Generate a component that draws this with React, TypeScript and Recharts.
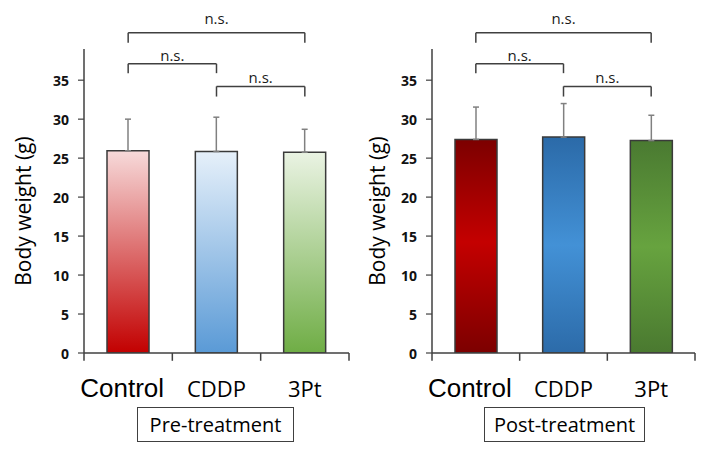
import React from 'react'
import { BarChart, Bar, Cell, XAxis, YAxis, ErrorBar, ReferenceLine } from 'recharts'

const categories = ['Control', 'CDDP', '3Pt']
const preMean = [25.95, 25.85, 25.75]
const preSD = [4.05, 4.4, 2.95]
const postMean = [27.4, 27.7, 27.25]
const postSD = [4.15, 4.3, 3.25]
const yTicks = [0, 5, 10, 15, 20, 25, 30, 35]

// significance brackets (in y units)
const brackets = [
  { from: 'Control', to: '3Pt', top: 41.1, foot: 39.8, label: 'n.s.' },
  { from: 'Control', to: 'CDDP', top: 37.1, foot: 35.9, label: 'n.s.' },
  { from: 'CDDP', to: '3Pt', top: 34.2, foot: 32.9, label: 'n.s.' }
]

const FONT = '"Open Sans", "DejaVu Sans", sans-serif'
const LINE = '#404040'

const preStops = [
  [['0', '#f7dada'], ['1', '#c20000']],
  [['0', '#e6f0fa'], ['1', '#5a9ad6']],
  [['0', '#eaf3e3'], ['1', '#6fad45']]
]
const postStops = [
  [['0', '#7c0000'], ['0.48', '#c40000'], ['1', '#7c0000']],
  [['0', '#2b6aa8'], ['0.5', '#4391d6'], ['1', '#2c6ba9']],
  [['0', '#4a7a31'], ['0.5', '#67a33f'], ['1', '#4a7930']]
]

const CatTick = (props: any) => {
  const { x, y, payload } = props
  const isControl = payload.value === 'Control'
  return (
    <text
      x={x + (isControl ? -6 : 0)}
      y={y + 36}
      textAnchor="middle"
      fontFamily={isControl ? '"Liberation Sans", Arial, sans-serif' : FONT}
      fontSize={isControl ? 26 : 22}
      fill="#000"
    >
      {payload.value}
    </text>
  )
}

const NumTick = (props: any) => {
  const { x, y, payload } = props
  return (
    <text
      x={x}
      y={y}
      textAnchor="end"
      dominantBaseline="central"
      fontFamily={FONT}
      fontWeight={700}
      fontSize={14}
      fill="#111"
    >
      {payload.value}
    </text>
  )
}

const YLabel = (props: any) => {
  const vb = props.viewBox || { x: 0, y: 49, width: 84, height: 304 }
  const cx = 23
  const cy = vb.y + vb.height / 2 + 10
  return (
    <text
      x={cx}
      y={cy}
      transform={`rotate(-90, ${cx}, ${cy})`}
      textAnchor="middle"
      dominantBaseline="central"
      fontFamily={FONT}
      fontSize={21}
      fill="#000"
    >
      Body weight (g)
    </text>
  )
}

interface PanelProps {
  id: string
  means: number[]
  sds: number[]
  stops: string[][][]
  axisWidth: number
  marginRight: number
}

function Panel({ id, means, sds, stops, axisWidth, marginRight }: PanelProps) {
  const data = categories.map((name, i) => ({ name, mean: means[i], err: [0, sds[i]] }))
  const labelOffsets = [9, 3, 3]

  return (
    <BarChart
      width={354}
      height={453}
      data={data}
      margin={{ top: 49, right: marginRight, bottom: 55, left: 0 }}
      barCategoryGap={0}
    >
      <defs>
        {stops.map((s, i) => (
          <linearGradient key={i} id={`${id}-g${i}`} x1="0" y1="0" x2="0" y2="1">
            {s.map(([off, col]) => (
              <stop key={off} offset={off} stopColor={col} />
            ))}
          </linearGradient>
        ))}
      </defs>
      <XAxis
        dataKey="name"
        height={45}
        axisLine={{ stroke: LINE, strokeWidth: 1.5 }}
        tickLine={false}
        tick={<CatTick />}
        interval={0}
      />
      <YAxis
        type="number"
        domain={[0, 39]}
        ticks={yTicks}
        interval={0}
        allowDataOverflow
        width={axisWidth}
        tickSize={6}
        tickMargin={9}
        axisLine={{ stroke: LINE, strokeWidth: 1.5 }}
        tickLine={{ stroke: LINE, strokeWidth: 1.2 }}
        tick={<NumTick />}
        label={<YLabel />}
      />
      <Bar dataKey="mean" barSize={42} stroke="#3a3a3a" strokeWidth={1.5} isAnimationActive={false}>
        {data.map((d, i) => (
          <Cell key={d.name} fill={`url(#${id}-g${i})`} />
        ))}
        <ErrorBar dataKey="err" width={3} stroke="#808080" strokeWidth={1.5} direction="y" isAnimationActive={false} />
      </Bar>
      {/* category boundary ticks under the x axis */}
      {categories.map(c => (
        <ReferenceLine
          key={`t-${c}`}
          segment={[{ x: c, y: 0 }, { x: c, y: -1 }]}
          position="start"
          ifOverflow="visible"
          stroke={LINE}
          strokeWidth={1.5}
        />
      ))}
      <ReferenceLine
        segment={[{ x: categories[2], y: 0 }, { x: categories[2], y: -1 }]}
        position="end"
        ifOverflow="visible"
        stroke={LINE}
        strokeWidth={1.5}
      />
      {brackets.map((b, i) => [
        <ReferenceLine
          key={`h-${i}`}
          segment={[{ x: b.from, y: b.top }, { x: b.to, y: b.top }]}
          ifOverflow="visible"
          stroke={LINE}
          strokeWidth={1.5}
          label={{ value: b.label, position: 'top', offset: labelOffsets[i], fontFamily: FONT, fontSize: 15, fill: '#1a1a1a' }}
        />,
        <ReferenceLine
          key={`l-${i}`}
          segment={[{ x: b.from, y: b.top }, { x: b.from, y: b.foot }]}
          ifOverflow="visible"
          stroke={LINE}
          strokeWidth={1.5}
        />,
        <ReferenceLine
          key={`r-${i}`}
          segment={[{ x: b.to, y: b.top }, { x: b.to, y: b.foot }]}
          ifOverflow="visible"
          stroke={LINE}
          strokeWidth={1.5}
        />
      ])}
    </BarChart>
  )
}

const boxStyle: React.CSSProperties = {
  position: 'absolute',
  top: 407,
  height: 35,
  border: `1.5px solid ${LINE}`,
  boxSizing: 'border-box',
  display: 'flex',
  alignItems: 'center',
  justifyContent: 'center',
  fontFamily: FONT,
  fontSize: 20,
  color: '#000',
  background: '#fff'
}

export default function App() {
  return (
    <div style={{ position: 'absolute', left: 0, top: 0, width: 708, height: 453, background: '#fff', overflow: 'hidden' }}>
      <div style={{ position: 'absolute', left: 0, top: 0 }}>
        <Panel id="pre" means={preMean} sds={preSD} stops={preStops} axisWidth={84} marginRight={5} />
      </div>
      <div style={{ position: 'absolute', left: 354, top: 0 }}>
        <Panel id="post" means={postMean} sds={postSD} stops={postStops} axisWidth={78} marginRight={13} />
      </div>
      <div style={{ ...boxStyle, left: 137, width: 157 }}>Pre-treatment</div>
      <div style={{ ...boxStyle, left: 484, width: 161 }}>Post-treatment</div>
    </div>
  )
}
